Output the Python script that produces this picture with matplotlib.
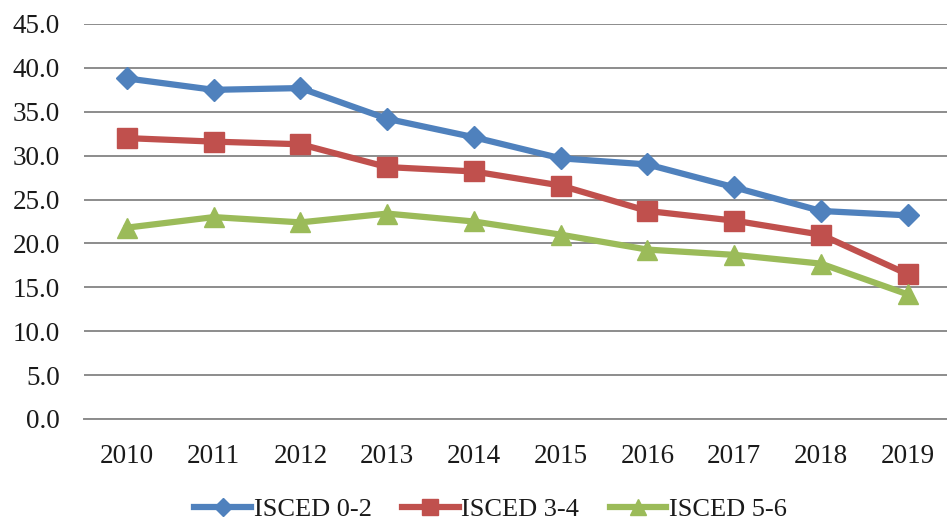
import numpy as np
import matplotlib.pyplot as plt

# Datos
years = ['2010', '2011', '2012', '2013', '2014', '2015', '2016', '2017', '2018', '2019']
isced_02 = [38.8, 37.5, 37.7, 34.2, 32.1, 29.7, 29.0, 26.4, 23.7, 23.2]
isced_34 = [32.0, 31.6, 31.3, 28.7, 28.2, 26.6, 23.7, 22.6, 21.0, 16.5]
isced_56 = [21.8, 23.0, 22.4, 23.4, 22.5, 21.0, 19.3, 18.7, 17.7, 14.2]

plt.rcParams['font.family'] = ['Liberation Serif', 'DejaVu Serif']

fig = plt.figure(figsize=(9.47, 5.19), dpi=100)
ax = fig.add_axes([83.6 / 947, 1 - 419 / 519, (951 - 83.6) / 947, (419 - 24) / 519])

x = np.arange(len(years))
ax.plot(x, isced_02, color='#4F81BD', lw=4.5, marker='D', ms=11, label='ISCED 0-2')
ax.plot(x, isced_34, color='#C0504D', lw=4.5, marker='s', ms=14, label='ISCED 3-4')
ax.plot(x, isced_56, color='#9BBB59', lw=4.5, marker='^', ms=14, label='ISCED 5-6')

ax.set_xlim(-0.5, len(years) - 0.5)
ax.set_ylim(0, 45)
ax.set_yticks(np.arange(0, 46, 5))
ax.set_yticklabels([f'{v:.1f}' for v in np.arange(0, 46, 5)], fontsize=19.5)
ax.set_xticks(x)
ax.set_xticklabels(years, fontsize=19.5)
ax.tick_params(axis='both', length=0, colors='#1a1a1a')
ax.tick_params(axis='y', pad=17)
ax.tick_params(axis='x', pad=18)

ax.grid(axis='y', color='#8C8C8C', lw=1.4)
ax.set_axisbelow(True)
for side in ['top', 'right', 'left']:
    ax.spines[side].set_visible(False)
ax.spines['bottom'].set_color('#8C8C8C')
ax.spines['bottom'].set_linewidth(1.4)

leg = fig.legend(loc='center', bbox_to_anchor=(490.5 / 947, 10 / 519), ncol=3, frameon=False,
                 fontsize=19, handlelength=2.15, columnspacing=1.15, handletextpad=0.1,
                 borderpad=0, borderaxespad=0, markerscale=0.85)
for t in leg.get_texts():
    t.set_color('#1a1a1a')

plt.savefig('out.png', dpi=100)
plt.close()
